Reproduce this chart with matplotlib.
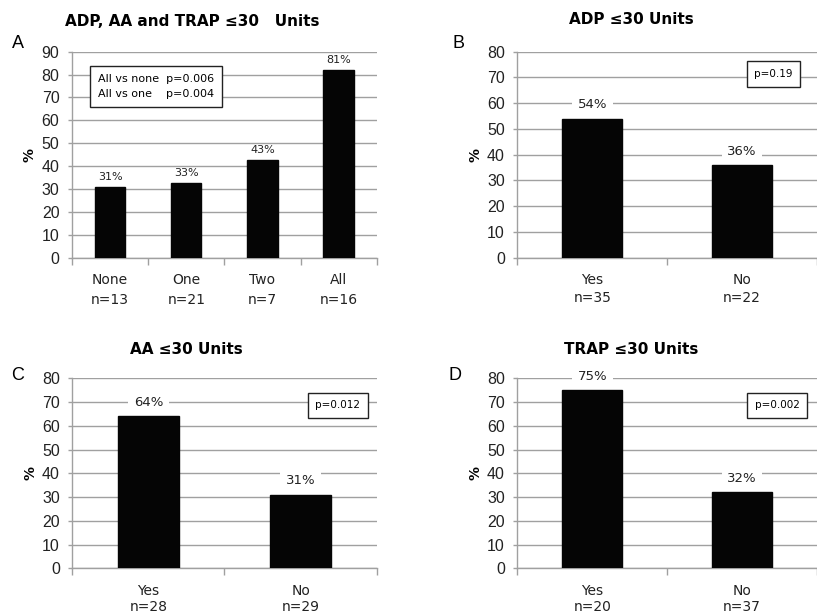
import matplotlib.pyplot as plt

# Panel data
a_cats = ["None", "One", "Two", "All"]
a_n = [13, 21, 7, 16]
a_vals = [31, 32.8, 42.7, 82]
a_labels = ["31%", "33%", "43%", "81%"]

yn_cats = ["Yes", "No"]

b_n = [35, 22]
b_vals = [54, 36]
b_labels = ["54%", "36%"]

c_n = [28, 29]
c_vals = [64, 31]
c_labels = ["64%", "31%"]

d_n = [20, 37]
d_vals = [75, 32]
d_labels = ["75%", "32%"]

GRID = "#a0a0a0"
W, H = 817, 615


def fx(px):
    return px / W


def fy(py):
    return 1 - py / H


def draw_panel(ax, cats, ns, vals, labels, ymax, label_size, label_off, white_bg, lsp):
    x = list(range(len(cats)))
    ax.bar(x, vals, width=0.4, color="#050505", edgecolor="#050505", zorder=3)
    ax.set_xlim(-0.5, len(cats) - 0.5)
    ax.set_ylim(0, ymax)
    ax.set_yticks(range(0, ymax + 1, 10))
    ax.grid(axis="y", color=GRID, linewidth=1.0, zorder=0)
    ax.set_axisbelow(True)
    for s in ["top", "right"]:
        ax.spines[s].set_visible(False)
    for s in ["left", "bottom"]:
        ax.spines[s].set_color(GRID)
        ax.spines[s].set_linewidth(1.0)
    ax.tick_params(axis="y", colors=GRID, length=3, width=1, labelcolor="#222222",
                   labelsize=11.5, pad=6)
    for t in ax.get_yticklabels():
        t.set_fontfamily("Liberation Sans")
    ax.set_xticks(x)
    ax.set_xticklabels([f"{c}\nn={n}" for c, n in zip(cats, ns)], fontsize=10,
                       color="#222222", linespacing=lsp)
    ax.set_xticks([i - 0.5 for i in range(len(cats) + 1)], minor=True)
    ax.tick_params(axis="x", which="major", length=0, pad=11)
    ax.tick_params(axis="x", which="minor", length=5, width=1, colors=GRID)
    ax.set_ylabel("%", fontsize=10, fontweight="bold", labelpad=3.5)
    for xi, v, lab in zip(x, vals, labels):
        bbox = dict(facecolor="white", edgecolor="none", pad=4) if white_bg else None
        ax.annotate(lab, (xi, v), xytext=(0, label_off), textcoords="offset points",
                    ha="center", va="center", fontsize=label_size, color="#222222",
                    bbox=bbox, zorder=4)


fig = plt.figure(figsize=(8.17, 6.15), dpi=100)

axA = fig.add_axes([fx(72), fy(257.7), fx(376.7 - 72), (257.7 - 51.7) / H])
axB = fig.add_axes([fx(517.3), fy(257.7), fx(817 - 517.3), (257.7 - 51.7) / H])
axC = fig.add_axes([fx(72.3), fy(568.3), fx(376.7 - 72.3), (568.3 - 378.3) / H])
axD = fig.add_axes([fx(517.3), fy(568.3), fx(817 - 517.3), (568.3 - 378.3) / H])

draw_panel(axA, a_cats, a_n, a_vals, a_labels, 90, 8, 7, False, 1.55)
draw_panel(axB, yn_cats, b_n, b_vals, b_labels, 80, 9.5, 10, True, 1.4)
draw_panel(axC, yn_cats, c_n, c_vals, c_labels, 80, 9.5, 10, True, 1.2)
draw_panel(axD, yn_cats, d_n, d_vals, d_labels, 80, 9.5, 10, True, 1.2)

# titles
title_kw = dict(fontsize=11, fontweight="bold", ha="center", va="center")
fig.text(fx(192), fy(22), "ADP, AA and TRAP \u226430   Units", **title_kw)
fig.text(fx(631), fy(20), "ADP \u226430 Units", **title_kw)
fig.text(fx(186), fy(349), "AA \u226430 Units", **title_kw)
fig.text(fx(631), fy(349), "TRAP \u226430 Units", **title_kw)

# panel letters
letter_kw = dict(fontsize=13, family="Liberation Sans", ha="center", va="center")
fig.text(fx(18), fy(44), "A", **letter_kw)
fig.text(fx(458), fy(44), "B", **letter_kw)
fig.text(fx(18), fy(375), "C", **letter_kw)
fig.text(fx(455), fy(376), "D", **letter_kw)

# p-value boxes
box = dict(facecolor="white", edgecolor="#222222", linewidth=1.0, pad=5.5)
fig.text(fx(98), fy(86.5), "All vs none  p=0.006\nAll vs one    p=0.004", fontsize=8,
         ha="left", va="center", linespacing=1.6, bbox=dict(facecolor="white",
         edgecolor="#222222", linewidth=1.0, boxstyle="square,pad=0.7"))
fig.text(fx(773.5), fy(74), "p=0.19", fontsize=7.5, ha="center", va="center", bbox=box)
fig.text(fx(338), fy(405.5), "p=0.012", fontsize=7.5, ha="center", va="center", bbox=box)
fig.text(fx(777), fy(405.5), "p=0.002", fontsize=7.5, ha="center", va="center", bbox=box)

fig.savefig("out.png", dpi=100)
